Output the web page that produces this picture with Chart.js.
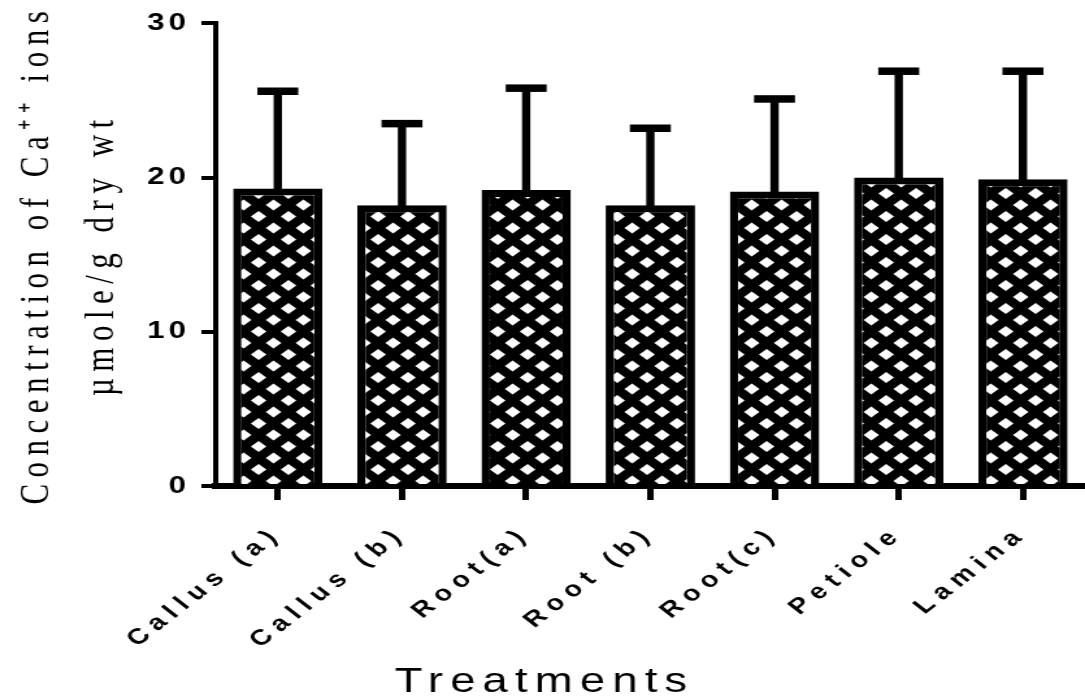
<!DOCTYPE html>
<html>
<head>
<meta charset="utf-8">
<title>Concentration of Ca++ ions</title>
<script src="https://cdn.jsdelivr.net/npm/chart.js@4.4.1/dist/chart.umd.min.js"></script>
<style>
  html, body { margin: 0; padding: 0; background: #ffffff; }
</style>
</head>
<body>
<!-- the plot is laid out on an 835px-wide canvas and shown 1085px wide (wide-stretched figure) -->
<canvas id="chart" width="835" height="700" style="display:block;width:1085px;height:700px"></canvas>
<script>
// Treatments and their mean Ca++ content with the standard deviation
const categories = ['Callus (a)', 'Callus (b)', 'Root(a)', 'Root (b)', 'Root(c)', 'Petiole', 'Lamina'];
const meanValues = [19.3, 18.2, 19.2, 18.2, 19.1, 20.0, 19.9];
const sdValues = [6.3, 5.3, 6.6, 5.0, 6.0, 6.9, 7.0];
const yTickValues = [0, 10, 20, 30];
const yTitleLines = ['Concentration of Ca\u207A\u207A ions', '\u00B5mole/g dry wt'];
const xTitle = 'Treatments';

// Cross-hatch fill: white diamonds on black
function makeHatch() {
  const size = 23;
  const tile = document.createElement('canvas');
  tile.width = size;
  tile.height = size;
  const t = tile.getContext('2d');
  t.fillStyle = '#000';
  t.fillRect(0, 0, size, size);
  t.fillStyle = '#fff';
  const centres = [[3.5, 21], [15, 9.5]];
  const hw = 6.0, hh = 5.4;
  for (const [cx, cy] of centres) {
    for (let dx = -size; dx <= size; dx += size) {
      for (let dy = -size; dy <= size; dy += size) {
        const x = cx + dx, y = cy + dy;
        t.beginPath();
        t.moveTo(x, y - hh);
        t.lineTo(x + hw, y);
        t.lineTo(x, y + hh);
        t.lineTo(x - hw, y);
        t.closePath();
        t.fill();
      }
    }
  }
  return t.createPattern(tile, 'repeat');
}

// Upper error bars (mean + SD), placed through the value scale
const errorBarPlugin = {
  id: 'errorBars',
  afterDatasetsDraw(chart) {
    const { ctx, scales } = chart;
    const y = scales.y;
    const meta = chart.getDatasetMeta(0);
    ctx.save();
    ctx.fillStyle = '#000';
    meta.data.forEach((bar, i) => {
      const top = y.getPixelForValue(meanValues[i] + sdValues[i]);
      const stemW = 6.4, capW = 31.5, capH = 7.5;
      ctx.fillRect(bar.x - stemW / 2, top, stemW, bar.y - top + 2);
      ctx.fillRect(bar.x - capW / 2, top - capH / 2, capW, capH);
    });
    ctx.restore();
  }
};

// Wide letter spacing for the axis texts
const spacing = { x: { ticks: '6px' }, y: { ticks: '3px', title: '6.5px' } };
const titleSpacing = '5.5px';
const letterSpacingPlugin = {
  id: 'letterSpacing',
  afterUpdate(chart) {
    const wrap = (obj, name, value) => {
      const orig = obj[name];
      obj[name] = function (...args) {
        const c = chart.ctx;
        const prev = c.letterSpacing;
        c.letterSpacing = value;
        orig.apply(this, args);
        c.letterSpacing = prev === undefined ? '0px' : prev;
      };
    };
    Object.entries(spacing).forEach(([id, sp]) => {
      const scale = chart.scales[id];
      if (!scale || scale.__spaced) return;
      scale.__spaced = true;
      if (sp.ticks) wrap(scale, 'drawLabels', sp.ticks);
      if (sp.title) wrap(scale, 'drawTitle', sp.title);
    });
    const tb = chart.titleBlock;
    if (tb && !tb.__spaced) {
      tb.__spaced = true;
      wrap(tb, 'draw', titleSpacing);
    }
  }
};

Chart.defaults.font.family = '"Liberation Sans", Arial, sans-serif';
Chart.defaults.color = '#000';

new Chart(document.getElementById('chart'), {
  type: 'bar',
  data: {
    labels: categories,
    datasets: [{
      data: meanValues,
      backgroundColor: makeHatch(),
      borderColor: '#000',
      borderWidth: { top: 7, left: 6.4, right: 6.4, bottom: 0 },
      borderSkipped: false,
      categoryPercentage: 1.0,
      barPercentage: 0.72
    }]
  },
  options: {
    responsive: false,
    devicePixelRatio: 1,
    animation: false,
    events: [],
    layout: { padding: { top: 21, right: -3, left: 0, bottom: 0 } },
    plugins: {
      legend: { display: false },
      tooltip: { enabled: false },
      title: {
        display: true,
        position: 'bottom',
        text: xTitle,
        color: '#000',
        font: { family: '"Liberation Sans", Arial, sans-serif', size: 35, weight: 'normal', lineHeight: 1 },
        padding: { top: 0, bottom: 0 }
      }
    },
    scales: {
      x: {
        grid: {
          display: true, drawOnChartArea: false, drawTicks: true,
          tickLength: 14, lineWidth: 5, color: '#000', offset: false
        },
        border: { display: true, width: 6, color: '#000' },
        ticks: {
          autoSkip: false, minRotation: 45, maxRotation: 45, padding: 15,
          color: '#000',
          font: { size: 22, weight: 'bold', lineHeight: 2.0 }
        },
        afterFit(scale) { scale.height = 179; }
      },
      y: {
        min: 0,
        max: 30,
        afterBuildTicks(scale) { scale.ticks = yTickValues.map(v => ({ value: v })); },
        grid: {
          display: true, drawOnChartArea: false, drawTicks: true,
          tickLength: 11, lineWidth: 4, color: '#000'
        },
        border: { display: true, width: 4, color: '#000' },
        ticks: {
          padding: 9,
          color: '#000',
          font: { size: 24, weight: 'bold' }
        },
        title: {
          display: true,
          text: yTitleLines,
          color: '#000',
          font: { family: '"Liberation Serif", "Times New Roman", serif', size: 31, weight: 'normal', lineHeight: 1.62 },
          padding: { top: 3.5, bottom: 0 }
        },
        afterFit(scale) { scale.width = 166; }
      }
    }
  },
  plugins: [errorBarPlugin, letterSpacingPlugin]
});
</script>
</body>
</html>
